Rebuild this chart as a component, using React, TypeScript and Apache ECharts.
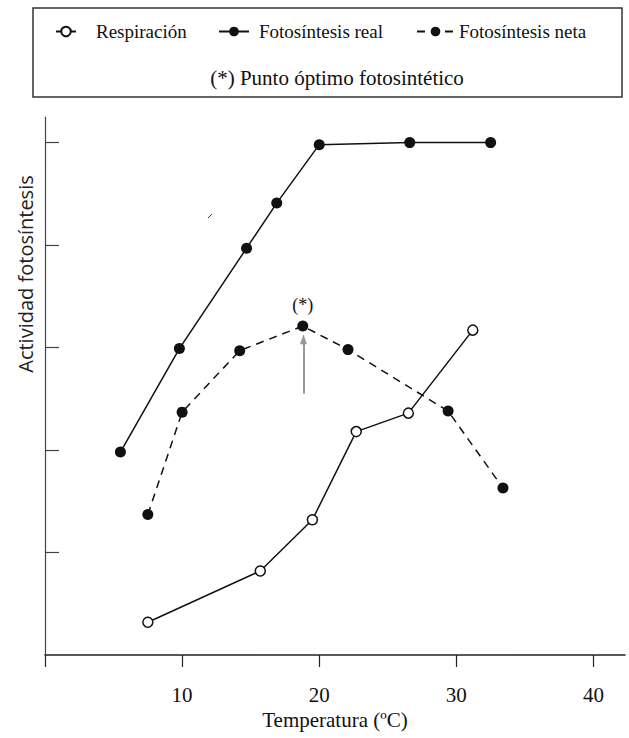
import React, { useEffect, useRef } from "react";
import * as echarts from "echarts";

const respiracionX = [7.5, 15.7, 19.5, 22.7, 26.5, 31.2];
const respiracionY = [0.32, 0.82, 1.32, 2.18, 2.36, 3.17];

const realX = [5.5, 9.8, 14.7, 16.9, 20.0, 26.6, 32.5];
const realY = [1.98, 2.99, 3.97, 4.41, 4.98, 5.0, 5.0];

const netaX = [7.5, 10.0, 14.2, 18.8, 22.1, 29.4, 33.4];
const netaY = [1.37, 2.37, 2.97, 3.21, 2.98, 2.38, 1.63];

const optimoIndex = 3;
const arrowX = 18.85;
const arrowFrom = 2.55;
const arrowTo = 3.08;

const xTicks = [0, 10, 20, 30, 40];
const xLabels = [10, 20, 30, 40];
const yTicks = [1, 2, 3, 4, 5];

const SERIF = "Liberation Serif";

export default function App() {
  const ref = useRef<HTMLDivElement>(null);
  useEffect(() => {
    document.body.style.margin = "0";
    const chart = echarts.init(ref.current!, null, { renderer: "svg" });
    const zip = (xs: number[], ys: number[]) => xs.map((x, i) => [x, ys[i]]);
    const netaData: any[] = zip(netaX, netaY).map((p, i) =>
      i === optimoIndex
        ? {
            value: p,
            label: {
              show: true,
              formatter: "(*)",
              position: "top",
              distance: 7,
              fontFamily: SERIF,
              fontSize: 18,
              color: "#111",
            },
          }
        : p
    );
    const legendBase = {
      top: 22,
      padding: 0,
      itemHeight: 12,
      textStyle: { fontFamily: SERIF, fontSize: 19, color: "#111" },
    };
    chart.setOption({
      animation: false,
      backgroundColor: "#fff",
      grid: { left: 45, right: 4, top: 117, bottom: 83 },
      legend: [
        {
          ...legendBase,
          left: 55,
          itemWidth: 20,
          textStyle: { ...legendBase.textStyle, padding: [0, 0, 0, 15] },
          data: ["Respiración"],
        },
        {
          ...legendBase,
          left: 218,
          itemWidth: 30,
          textStyle: { ...legendBase.textStyle, padding: [0, 0, 0, 5] },
          data: ["Fotosíntesis real"],
        },
        {
          ...legendBase,
          left: 416,
          itemWidth: 37,
          data: ["Fotosíntesis neta"],
        },
      ],
      xAxis: {
        type: "value",
        min: 0,
        max: 42.3,
        interval: 10,
        splitLine: { show: false },
        axisLine: { lineStyle: { color: "#222", width: 1.5 } },
        axisTick: { customValues: xTicks, length: 12, lineStyle: { color: "#222", width: 1.2 } },
        axisLabel: {
          customValues: xLabels,
          margin: 29,
          fontFamily: SERIF,
          fontSize: 21,
          color: "#111",
        },
        name: "Temperatura (ºC)",
        nameLocation: "middle",
        nameGap: 54,
        nameTextStyle: { fontFamily: SERIF, fontSize: 21, color: "#111" },
      },
      yAxis: {
        type: "value",
        min: 0,
        max: 5.25,
        interval: 1,
        splitLine: { show: false },
        axisLine: { show: true, lineStyle: { color: "#444", width: 1.2 } },
        axisTick: { show: true, inside: true, customValues: yTicks, length: 14, lineStyle: { color: "#444", width: 1.2 } },
        axisLabel: { show: false },
      },
      series: [
        {
          name: "Respiración",
          type: "line",
          data: zip(respiracionX, respiracionY),
          symbol: "circle",
          symbolSize: 10,
          lineStyle: { color: "#111", width: 1.5 },
          itemStyle: { color: "#fff", borderColor: "#111", borderWidth: 1.5 },
        },
        {
          name: "Fotosíntesis real",
          type: "line",
          data: zip(realX, realY),
          symbol: "circle",
          symbolSize: 11,
          lineStyle: { color: "#111", width: 1.5 },
          itemStyle: { color: "#111" },
        },
        {
          name: "Fotosíntesis neta",
          type: "line",
          data: netaData,
          symbol: "circle",
          symbolSize: 11,
          lineStyle: { color: "#111", width: 1.5, type: [8, 6] },
          itemStyle: { color: "#111" },
          markLine: {
            silent: true,
            symbol: ["none", "triangle"],
            symbolSize: [7, 10],
            label: { show: false },
            lineStyle: { color: "#999", width: 2, type: "solid" },
            data: [[{ coord: [arrowX, arrowFrom] }, { coord: [arrowX, arrowTo] }]],
          },
        },
      ],
      graphic: [
        {
          type: "rect",
          shape: { x: 33, y: 8, width: 589, height: 89 },
          style: { fill: "none", stroke: "#333", lineWidth: 1.5 },
        },
        {
          type: "text",
          x: 337,
          y: 78,
          style: {
            text: "(*) Punto óptimo fotosintético",
            fontFamily: SERIF,
            fontSize: 21,
            fill: "#111",
            align: "center",
            verticalAlign: "middle",
          },
        },
        {
          type: "text",
          x: 25,
          y: 274,
          rotation: Math.PI / 2,
          style: {
            text: "Actividad fotosíntesis",
            fontFamily: "Open Sans",
            fontSize: 20,
            fill: "#222",
            align: "center",
            verticalAlign: "middle",
          },
        },
        {
          type: "line",
          shape: { x1: 208, y1: 218, x2: 212, y2: 214 },
          style: { stroke: "#444", lineWidth: 1 },
        },
      ],
    });
    return () => chart.dispose();
  }, []);
  return <div ref={ref} style={{ width: 629, height: 738 }} />;
}
